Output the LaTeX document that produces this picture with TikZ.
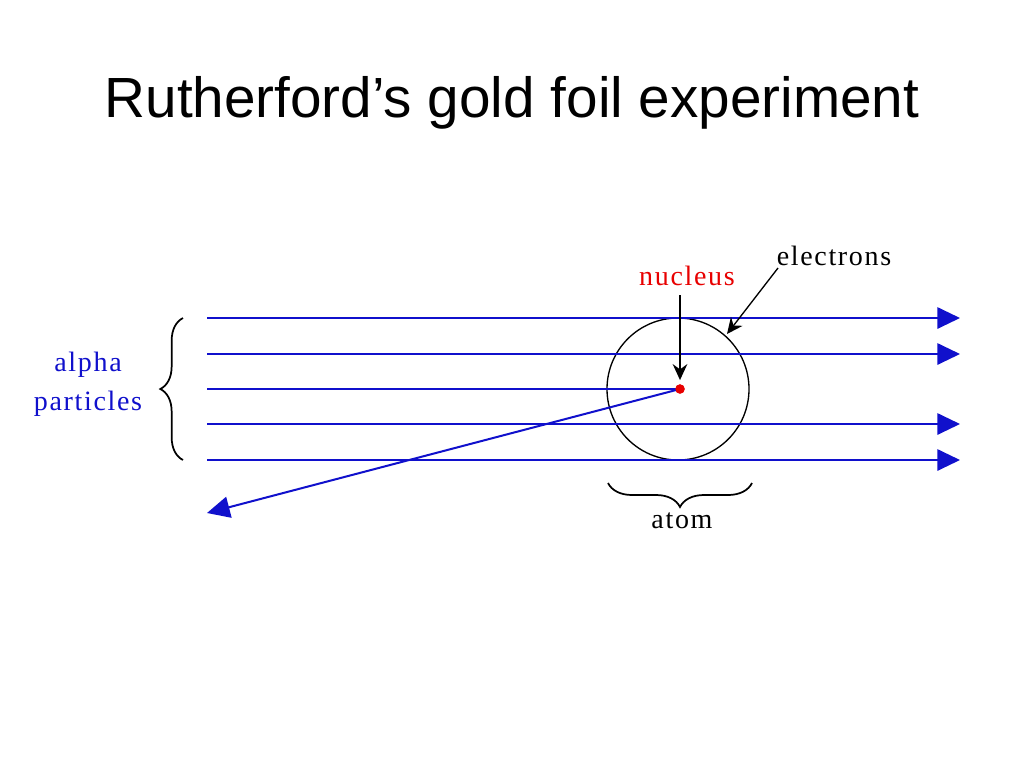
\documentclass[tikz,border=0pt]{standalone}
\usepackage{fontspec}
\setmainfont[LetterSpace=6]{Liberation Serif}
\newfontfamily\titlefont{Liberation Sans}
\usepackage{tikz}
\usetikzlibrary{arrows.meta,positioning,calc,decorations.pathreplacing}
\definecolor{beamBlue}{RGB}{16,16,204}
\definecolor{nucRed}{RGB}{232,0,0}
\tikzstyle{beam}=[draw=beamBlue,line width=1.5pt,-{Triangle[length=17pt,width=16pt]}]
\tikzstyle{pointer}=[draw=black,line width=1.3pt,-{Stealth[length=12pt,width=11pt,inset=4pt]}]
\tikzstyle{label}=[inner sep=0pt,font=\fontsize{21}{29}\selectfont]

\begin{document}
\begin{tikzpicture}[x=0.75pt,y=-0.75pt]
      \useasboundingbox [fill=white] (0,0) rectangle (1024,768);
      \node [anchor=base,inner sep=0pt,font=\titlefont\fontsize{42.5}{50}\selectfont] (title) at (512,117) {Rutherford’s gold foil experiment};
      % atom and nucleus
      \node [draw,circle,line width=1pt,minimum size=106.5pt,inner sep=0pt] (atom) at (678,389) {};
      \node [fill=nucRed,circle,minimum size=7pt,inner sep=0pt] (nuc) at (680,389) {};
      % beams
      \foreach \i/\y in {1/318,2/354,3/389,4/424,5/460} {
        \coordinate (s\i) at (207,\y);
        \coordinate (e\i) at (960,\y);
      }
      \coordinate (back) at (207,513);
      \draw [beam] (s1) -- (e1);
      \draw [beam] (s2) -- (e2);
      \draw [beam] (s4) -- (e4);
      \draw [beam] (s5) -- (e5);
      \draw [draw=beamBlue,line width=1.5pt] (s3) -- (nuc.center);
      \draw [beam] (nuc.center) -- (back);
      \fill [nucRed] (nuc) circle (3.5pt);
      % labels
      \node [label,text=nucRed,anchor=base] (lblNuc) at (687,285) {nucleus};
      \node [label,anchor=base] (lblEl) at (834,265) {electrons};
      \node [label,text=beamBlue,align=center] (lblAlpha) at (88,384) {alpha\\particles};
      \node [label,anchor=base] (lblAtom) at (682,528) {atom};
      \coordinate (nucTop) at (680,295);
      \coordinate (elTop) at (778,268);
      \coordinate (elTip) at (727,334);
      \draw [pointer,shorten >=3pt] (nucTop) -- (nuc);
      \draw [pointer,line width=1pt] (elTop) -- (elTip);
      % braces
      \draw [line width=1.3pt,decorate,decoration={brace,amplitude=17pt}] (183,460) -- (183,318);
      \draw [line width=1.3pt,decorate,decoration={brace,amplitude=18pt}] (752,483) -- (608,483);
    \end{tikzpicture}
\end{document}
